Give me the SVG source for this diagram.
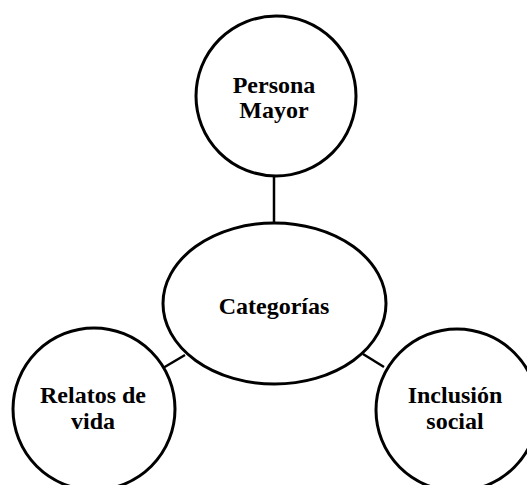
<svg xmlns="http://www.w3.org/2000/svg" width="527" height="485" viewBox="0 0 527 485">
<style>
.shape{fill:#fff;stroke:#000;stroke-width:3}
.conn{stroke:#000;stroke-width:2.5;fill:none}
.lbl{font-family:"Liberation Serif","Times New Roman",serif;font-weight:bold;font-size:24px;fill:#000;text-anchor:middle}
</style>
<rect width="527" height="485" fill="#fff"/>
<g id="connectors">
<line class="conn" x1="274" y1="176" x2="274" y2="223"/>
<line class="conn" x1="185" y1="355" x2="163" y2="368"/>
<line class="conn" x1="363" y1="354" x2="384" y2="367"/>
</g>
<g id="persona-mayor">
<circle class="shape" cx="276" cy="96" r="80"/>
<text class="lbl" x="274" y="93">Persona</text>
<text class="lbl" x="274" y="118">Mayor</text>
</g>
<g id="categorias">
<ellipse class="shape" cx="274.5" cy="303.5" rx="111.5" ry="80.5"/>
<text class="lbl" x="274" y="314">Categorías</text>
</g>
<g id="relatos-de-vida">
<circle class="shape" cx="94" cy="409" r="81"/>
<text class="lbl" x="93" y="403">Relatos de</text>
<text class="lbl" x="93" y="429">vida</text>
</g>
<g id="inclusion-social">
<circle class="shape" cx="457" cy="410" r="81"/>
<text class="lbl" x="455" y="403">Inclusión</text>
<text class="lbl" x="455" y="429">social</text>
</g>
</svg>
